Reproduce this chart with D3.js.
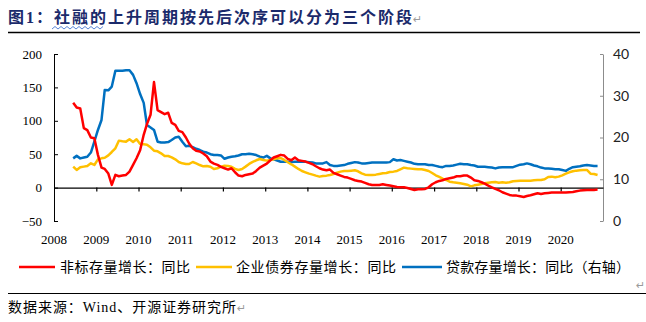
<!DOCTYPE html>
<html>
<head>
<meta charset="utf-8">
<script src="https://cdn.jsdelivr.net/npm/d3@7"></script>
<style>
  body { margin: 0; background: #fff; }
  svg { display: block; }
</style>
</head>
<body>
<svg id="chart" width="646" height="322"></svg>
<script>
// monthly data, first point = 2008-06
const firstMonth = new Date(2008, 5, 15);

// 非标存量增长：同比 (left axis, %)
const feibiao = [
  127, 120, 118.5, 89, 86, 75, 74, 49, 30, 28,
  21, 4, 19, 17, 18, 19, 24, 34, 44, 56,
  79, 95, 109, 158, 116, 113, 110, 112, 97, 94,
  85, 83, 75, 66, 59, 55, 54, 51, 47, 39,
  36, 34, 31, 29, 27, 29, 23, 18, 17, 19,
  20, 21, 25, 30, 33, 36, 41, 45, 47, 49,
  48, 43, 41, 45, 41, 40, 39, 37, 35, 32,
  29, 27, 26, 27, 22, 20, 18, 16, 15, 13,
  11, 10, 9, 7, 5, 4, 4, 4, 5, 4,
  3, 2, 1, 0.5, 0.5, -0.5, -2, -3.5, -2.5, -2.5,
  -2, 0.5, 5, 8, 10, 11, 13, 14, 15, 17,
  17, 18, 18, 15, 11, 10, 8, 6, 3, 0.5,
  -2, -4, -7, -9, -11, -12, -12, -13, -14, -12.5,
  -11.5, -10, -8.5, -9.5, -8.5, -8, -7.5, -7.5, -7.5, -7.5,
  -7.5, -7, -6.5, -5.5, -4.5, -4, -3.5, -3.5, -3.5, -3
];

// 企业债券存量增长：同比 (left axis, %)
const bond = [
  31.4, 26.4, 30.4, 31.4, 32.4, 36.4, 33.9, 42.3, 43.8, 44.8,
  48.3, 53.3, 58.8, 70.3, 69.3, 68.8, 72.3, 68.3, 72.3, 65.3,
  64.8, 64.3, 60.3, 55.3, 54.3, 51.3, 47.3, 47.3, 45.3, 42.3,
  38.3, 36.3, 35.3, 35.3, 38.3, 36.3, 33.8, 31.8, 32.3, 31.3,
  27.9, 28.9, 31.3, 32.8, 32.3, 31.3, 28, 26.4, 27.9, 31.4,
  35.4, 38.4, 40.9, 42.8, 41.4, 40.4, 41.4, 42.3, 43.8, 44.3,
  41.4, 37.9, 34.9, 31.4, 27.9, 24.9, 22.9, 20.9, 19.4, 17.9,
  16.4, 17.4, 17.9, 18.9, 20.4, 22.4, 23.9, 24.9, 24.9, 25.4,
  25.9, 24.4, 21.4, 19.4, 18.9, 18.9, 19.4, 20.4, 21.4, 21.9,
  23.4, 23.9, 24.9, 27.4, 29.9, 28.9, 28.4, 27.9, 27.4, 27.4,
  26.4, 24.9, 21.9, 18.4, 15.9, 13.4, 11.4, 8.9, 7.9, 7.4,
  6.4, 5.4, 4.4, 1.9, 3.4, 4.4, 5.4, 6.4, 7.4, 7.9,
  8.4, 7.4, 7.9, 7.4, 7.9, 9.4, 9.9, 10.4, 10.4, 10.4,
  10.4, 10.9, 11.4, 11.4, 12.4, 15.9, 16.4, 15.4, 16.4, 18.4,
  20.9, 22.9, 24.4, 25.4, 25.9, 26.4, 26.4, 20.9, 20.4, 18.9
];

// 贷款存量增长：同比 (right axis, %)
const loan = [
  15.0, 15.6, 15.0, 15.2, 15.4, 16.4, 19.0, 21.8, 24.2, 31.4,
  31.3, 32.2, 36.0, 36.0, 36.0, 36.1, 36.1, 35.0, 33.0, 30.4,
  28.3, 23.0, 22.4, 21.8, 19.0, 18.8, 18.8, 18.9, 19.4, 20.0,
  20.2, 19.0, 17.9, 18.0, 17.7, 17.3, 17.0, 16.6, 16.4, 16.0,
  15.8, 15.8, 15.7, 14.9, 15.2, 15.4, 15.5, 15.7, 16.0, 16.0,
  16.1, 16.0, 15.8, 15.4, 15.2, 15.6, 15.0, 14.8, 14.5, 14.2,
  14.2, 14.2, 14.1, 14.2, 14.2, 14.2, 14.2, 14.1, 14.0, 13.8,
  13.8, 13.8, 14.1, 13.4, 13.2, 13.2, 13.3, 13.4, 13.7, 13.9,
  14.1, 14.0, 13.8, 13.8, 13.9, 14.0, 14.0, 14.0, 14.0, 14.0,
  14.1, 14.8, 14.5, 14.6, 14.4, 14.2, 14.0, 13.7, 13.6, 13.6,
  13.6, 13.4, 13.4, 13.2, 13.0, 12.9, 13.2, 13.2, 13.3, 13.5,
  13.7, 13.6, 13.6, 13.4, 13.3, 13.0, 13.0, 13.0, 12.9, 12.8,
  12.6, 12.8, 12.9, 12.9, 12.9, 12.9, 13.2, 13.5, 13.6, 13.8,
  13.6, 13.3, 13.1, 12.8, 12.6, 12.6, 12.5, 12.4, 12.4, 12.2,
  12.0, 12.5, 12.9, 13.0, 13.1, 13.3, 13.4, 13.3, 13.2, 13.2
];

const years = d3.range(2008, 2021);
const leftTicks = [-50, 0, 50, 100, 150, 200];
const rightTicks = [0, 10, 20, 30, 40];

const series = [
  { name: '非标存量增长：同比', values: feibiao, axis: 'left', color: '#ff0000' },
  { name: '企业债券存量增长：同比', values: bond, axis: 'left', color: '#ffc000' },
  { name: '贷款存量增长：同比（右轴）', values: loan, axis: 'right', color: '#0070c0' }
];

const months = feibiao.map((_, i) => d3.timeMonth.offset(firstMonth, i));

const plot = { left: 54, right: 603, top: 54, bottom: 221 };
const serif = '"Liberation Serif", "Times New Roman", serif';
const cjk = '"Noto Sans CJK SC", sans-serif';

const svg = d3.select('#chart');

const x = d3.scaleTime()
  .domain([new Date(2008, 0, 1), new Date(2021, 0, 1)])
  .range([plot.left, plot.right]);
const yLeft = d3.scaleLinear().domain([-50, 200]).range([plot.bottom, plot.top]);
const yRight = d3.scaleLinear().domain([0, 40]).range([plot.bottom, plot.top]);

// title
const title = svg.append('text')
  .attr('x', 8)
  .attr('y', 23)
  .attr('font-family', cjk)
  .attr('font-size', 16)
  .attr('font-weight', 'bold')
  .attr('fill', '#1b2a6b')
  .attr('textLength', 404)
  .attr('lengthAdjust', 'spacing');
title.append('tspan').text('图');
title.append('tspan').attr('font-family', serif).text('1');
title.append('tspan').text('：社融的上升周期按先后次序可以分为三个阶段');

svg.append('text')
  .attr('x', 413)
  .attr('y', 23)
  .attr('font-family', '"DejaVu Sans", sans-serif')
  .attr('font-size', 11)
  .attr('fill', '#9a9a9a')
  .text('↵');

// spell-check squiggle under 社融的
const squiggle = d3.range(52, 106, 3).map((px, i) => [px, i % 2 ? 26.5 : 29]);
svg.append('path')
  .attr('d', d3.line()(squiggle))
  .attr('fill', 'none')
  .attr('stroke', '#5b86d6')
  .attr('stroke-width', 1);

svg.append('line')
  .attr('x1', 8).attr('x2', 640)
  .attr('y1', 32.5).attr('y2', 32.5)
  .attr('stroke', '#000')
  .attr('stroke-width', 1.3);

// axes
const leftAxis = svg.append('g')
  .attr('transform', `translate(${plot.left},0)`)
  .call(d3.axisLeft(yLeft).tickValues(leftTicks).tickSizeInner(-4).tickSizeOuter(0).tickPadding(12));
leftAxis.selectAll('path, line').attr('stroke', '#000');
leftAxis.selectAll('text')
  .attr('font-family', serif)
  .attr('font-size', 13)
  .attr('fill', '#000');

const rightAxis = svg.append('g')
  .attr('transform', `translate(${plot.right},0)`)
  .call(d3.axisRight(yRight).tickValues(rightTicks).tickSizeInner(-3).tickSizeOuter(0).tickPadding(10));
rightAxis.selectAll('path, line').attr('stroke', '#8c8c8c');
rightAxis.selectAll('text')
  .attr('font-family', 'Lato, "Liberation Sans", sans-serif')
  .attr('font-size', 14)
  .attr('fill', '#222');

const xAxis = svg.append('g')
  .attr('transform', `translate(0,${yLeft(0)})`)
  .call(d3.axisBottom(x)
    .tickValues(years.slice(1).map(y => new Date(y, 0, 1)))
    .tickSizeInner(4).tickSizeOuter(0)
    .tickFormat(''));
xAxis.selectAll('path, line').attr('stroke', '#000').attr('stroke-width', 1.2);

svg.append('g')
  .selectAll('text')
  .data(years)
  .join('text')
  .attr('x', d => x(new Date(d, 0, 1)))
  .attr('y', 244)
  .attr('text-anchor', 'middle')
  .attr('font-family', serif)
  .attr('font-size', 13)
  .text(d => d);

// lines
const lineFor = s => d3.line()
  .x((d, i) => x(months[i]))
  .y(d => (s.axis === 'left' ? yLeft : yRight)(d));

svg.append('g')
  .selectAll('path')
  .data(series.slice().reverse())
  .join('path')
  .attr('fill', 'none')
  .attr('stroke', d => d.color)
  .attr('stroke-width', 2.5)
  .attr('stroke-linejoin', 'round')
  .attr('d', d => lineFor(d)(d.values));

// legend
const legendPos = [
  { line: [19, 55], text: 60, len: 130 },
  { line: [196, 232], text: 236, len: 160 },
  { line: [402, 442], text: 446, len: 184 }
];
const legend = svg.append('g')
  .selectAll('g')
  .data(series)
  .join('g');
legend.append('line')
  .attr('x1', (d, i) => legendPos[i].line[0])
  .attr('x2', (d, i) => legendPos[i].line[1])
  .attr('y1', 267).attr('y2', 267)
  .attr('stroke', d => d.color)
  .attr('stroke-width', 2.5);
legend.append('text')
  .attr('x', (d, i) => legendPos[i].text)
  .attr('y', 272)
  .attr('font-family', cjk)
  .attr('font-size', 14)
  .attr('textLength', (d, i) => legendPos[i].len)
  .attr('lengthAdjust', 'spacing')
  .text(d => d.name);

// source
svg.append('text')
  .attr('x', 636)
  .attr('y', 289)
  .attr('font-family', '"DejaVu Sans", sans-serif')
  .attr('font-size', 11)
  .attr('fill', '#9a9a9a')
  .text('↵');

svg.append('line')
  .attr('x1', 8).attr('x2', 646)
  .attr('y1', 293.5).attr('y2', 293.5)
  .attr('stroke', '#000')
  .attr('stroke-width', 1);

const source = svg.append('text')
  .attr('x', 8)
  .attr('y', 312)
  .attr('font-family', cjk)
  .attr('font-size', 14)
  .attr('textLength', 228)
  .attr('lengthAdjust', 'spacing');
source.append('tspan').text('数据来源：');
source.append('tspan').attr('font-family', serif).text('Wind');
source.append('tspan').text('、开源证券研究所');

svg.append('text')
  .attr('x', 237)
  .attr('y', 312)
  .attr('font-family', '"DejaVu Sans", sans-serif')
  .attr('font-size', 11)
  .attr('fill', '#9a9a9a')
  .text('↵');
</script>
</body>
</html>
